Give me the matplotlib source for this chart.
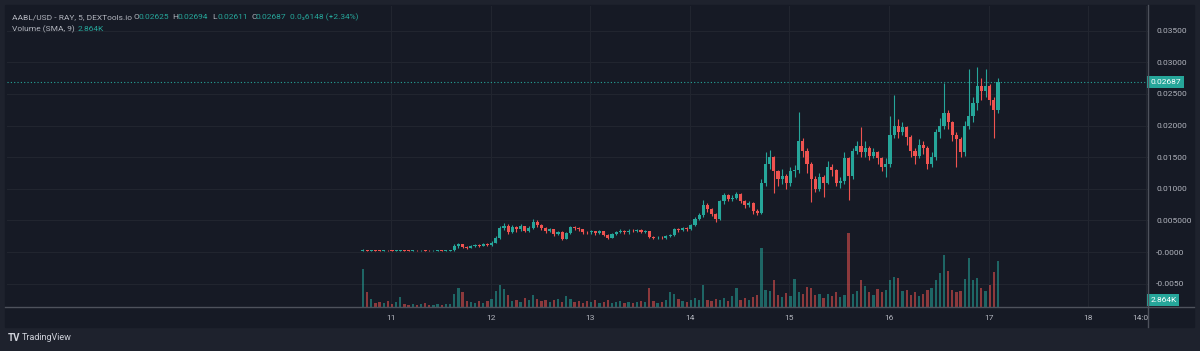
import numpy as np
import pandas as pd
import matplotlib
matplotlib.use('Agg')
import matplotlib.pyplot as plt
import matplotlib.dates as mdates
import matplotlib.transforms as mtransforms
from matplotlib.patches import Rectangle
from matplotlib.lines import Line2D

plt.rcParams['font.family'] = ['Roboto', 'DejaVu Sans']

# hourly candles
start = '2024-10-10 17:15'
first_open = 0.0002
close = [0.00025, 0.0002, 0.0003, 0.00025, 0.0002, 0.0003, 0.00028, 0.0002, 0.00022, 0.0003, 0.00025,
         0.00018, 0.0002, 0.00015, 0.0002, 0.00018, 0.00015, 0.0002, 0.00022, 0.0002, 0.00025, 0.0003,
         0.0009, 0.0012, 0.0008, 0.0007, 0.0009, 0.0011, 0.0010, 0.0013, 0.0011,
         0.0015, 0.0022, 0.0038,
         0.0042, 0.0032, 0.0040, 0.0036, 0.0041, 0.0034, 0.0038,
         0.0048, 0.0043,
         0.0038, 0.0033, 0.0036, 0.0029, 0.0032, 0.0021,
         0.0030, 0.0040, 0.0038, 0.0036,
         0.0032, 0.0031, 0.0033, 0.0030, 0.0033, 0.0027, 0.0023, 0.0028,
         0.0032, 0.0034, 0.0031, 0.0034, 0.0033, 0.0035, 0.0032, 0.0033,
         0.0024, 0.0022, 0.0023, 0.0022, 0.0025, 0.0027,
         0.0036, 0.0035, 0.0038, 0.0036,
         0.0043, 0.0052, 0.0058,
         0.0075, 0.0068, 0.0060, 0.0052,
         0.0080, 0.0090, 0.0084, 0.0086, 0.0092,
         0.0080, 0.0074, 0.0078, 0.0065,
         0.0062, 0.0110, 0.0140,
         0.0150, 0.0128, 0.0115,
         0.0120, 0.0110, 0.0128, 0.0130,
         0.0175,
         0.0160, 0.0140, 0.0115,
         0.0100, 0.0118, 0.0110,
         0.0135, 0.0130, 0.0110,
         0.0112, 0.0148, 0.0120,
         0.0160, 0.0168, 0.0158,
         0.0165, 0.0152, 0.0158, 0.0148, 0.0135,
         0.0140, 0.0185, 0.0200,
         0.0190, 0.0198, 0.0182,
         0.0160, 0.0152, 0.0170, 0.0165,
         0.0140, 0.0150,
         0.0190, 0.0200, 0.0220, 0.0205, 0.0185, 0.0178, 0.0158, 0.0200, 0.0215, 0.0235,
         0.0262, 0.0255, 0.0262, 0.0240, 0.0225, 0.02687]
high = [0.0005, 0.0004, 0.0004, 0.0004, 0.0003, 0.0004, 0.0004, 0.0003, 0.0003, 0.0004, 0.0004,
        0.0003, 0.0003, 0.0003, 0.0003, 0.0003, 0.0003, 0.0003, 0.0003, 0.0003, 0.0004, 0.0004,
        0.0012, 0.0015, 0.0013, 0.0010, 0.0011, 0.0013, 0.0013, 0.0015, 0.0014,
        0.0018, 0.0025, 0.0042,
        0.0046, 0.0044, 0.0043, 0.0042, 0.0044, 0.0042, 0.0041,
        0.0052, 0.0050,
        0.0044, 0.0040, 0.0038, 0.0037, 0.0034, 0.0033,
        0.0032, 0.0042, 0.0042, 0.0040,
        0.0037, 0.0034, 0.0035, 0.0034, 0.0035, 0.0034, 0.0028, 0.0030,
        0.0034, 0.0036, 0.0035, 0.0036, 0.0036, 0.0037, 0.0036, 0.0035,
        0.0034, 0.0026, 0.0025, 0.0025, 0.0027, 0.0029,
        0.0038, 0.0038, 0.0040, 0.0039,
        0.0045, 0.0055, 0.0062,
        0.0082, 0.0078, 0.0070, 0.0062,
        0.0083, 0.0094, 0.0092, 0.0090, 0.0095,
        0.0093, 0.0082, 0.0081, 0.0079,
        0.0068, 0.0115, 0.0158,
        0.0161, 0.0152, 0.0130,
        0.0132, 0.0124, 0.0135, 0.0138,
        0.0222,
        0.0180, 0.0165, 0.0142,
        0.0120, 0.0125, 0.0122,
        0.0144, 0.0140, 0.0132,
        0.0118, 0.0158, 0.0150,
        0.0165, 0.0175, 0.0197,
        0.0175, 0.0168, 0.0165, 0.0160, 0.0150,
        0.0148, 0.0215, 0.0248,
        0.0210, 0.0205, 0.0200,
        0.0185, 0.0165, 0.0178, 0.0175,
        0.0168, 0.0158,
        0.0195, 0.0212, 0.0268, 0.0225, 0.0208, 0.0190, 0.0182, 0.0208, 0.0290, 0.0245,
        0.0292, 0.0275, 0.0290, 0.0265, 0.0245, 0.0275]
low = [0.0001, 0.0001, 0.0001, 0.0001, 0.0001, 0.0001, 0.0001, 0.0001, 0.0001, 0.0001, 0.0001,
       0.0001, 0.0001, 0.0001, 0.0001, 0.0001, 0.0001, 0.0001, 0.0001, 0.0001, 0.0001, 0.0002,
       0.0002, 0.0007, 0.0006, 0.0005, 0.0006, 0.0008, 0.0008, 0.0009, 0.0009,
       0.0010, 0.0014, 0.0020,
       0.0035, 0.0028, 0.0030, 0.0032, 0.0034, 0.0031, 0.0032,
       0.0036, 0.0040,
       0.0035, 0.0030, 0.0031, 0.0026, 0.0027, 0.0019,
       0.0020, 0.0029, 0.0035, 0.0033,
       0.0029, 0.0028, 0.0029, 0.0027, 0.0028, 0.0025, 0.0021, 0.0022,
       0.0027, 0.0030, 0.0029, 0.0029, 0.0031, 0.0031, 0.0030, 0.0030,
       0.0022, 0.0020, 0.0021, 0.0020, 0.0021, 0.0024,
       0.0026, 0.0032, 0.0033, 0.0034,
       0.0035, 0.0041, 0.0050,
       0.0056, 0.0064, 0.0057, 0.0048,
       0.0050, 0.0076, 0.0081, 0.0080, 0.0084,
       0.0077, 0.0070, 0.0071, 0.0060,
       0.0058, 0.0060, 0.0105,
       0.0132, 0.0093, 0.0105,
       0.0108, 0.0100, 0.0104, 0.0118,
       0.0125,
       0.0150, 0.0125, 0.0079,
       0.0095, 0.0097, 0.0087,
       0.0108, 0.0120, 0.0105,
       0.0102, 0.0108, 0.0082,
       0.0115, 0.0155, 0.0150,
       0.0150, 0.0145, 0.0148, 0.0140, 0.0128,
       0.0118, 0.0135, 0.0180,
       0.0180, 0.0185, 0.0170,
       0.0150, 0.0140, 0.0148, 0.0155,
       0.0132, 0.0135,
       0.0145, 0.0180, 0.0195, 0.0195, 0.0175, 0.0135, 0.0150, 0.0152, 0.0195, 0.0205,
       0.0225, 0.0240, 0.0245, 0.0232, 0.0180, 0.0220]
volume = [15.6, 6.2, 3.3,
          1.8, 2.2, 1.5, 2.5, 1.2, 1.9, 4.0, 1.4,
          1.0, 1.3, 0.9, 1.1, 1.5, 0.8, 1.0, 1.2, 0.9, 1.1, 1.4,
          5.5, 8.0, 6.0, 2.5,
          2.0, 1.6, 2.4, 1.8, 2.6,
          3.5, 6.5, 9.0, 7.5, 5.0,
          2.5, 3.0, 2.2, 3.6, 2.8,
          5.0, 3.5,
          2.4, 3.0, 2.2, 2.8, 3.5, 2.0,
          4.5, 3.2,
          2.0, 2.6, 1.8, 2.4, 2.0, 3.0, 1.6, 2.2, 2.8, 1.8,
          2.0, 2.4, 1.6, 2.2, 1.8, 2.0, 2.6, 1.9,
          7.8,
          2.4, 1.8, 2.2, 3.0, 6.0,
          5.5, 3.2, 2.6, 2.2,
          2.8, 3.6, 3.0,
          9.0,
          3.0, 2.6, 3.4, 2.8, 3.8, 2.4, 4.5, 7.8,
          3.0, 3.6, 2.8, 4.0,
          5.0, 24.5, 7.0, 6.5, 11.0,
          5.0, 4.2, 5.8, 4.4, 11.5,
          6.0,
          5.2, 8.2, 8.0,
          4.8, 5.5, 3.8, 5.2, 4.5, 6.0, 4.2, 5.0,
          30.5,
          5.5, 6.5, 11.0, 8.5,
          6.0, 5.0, 7.5, 6.0,
          7.0, 11.0, 12.5, 12.0,
          6.5, 7.0, 5.0, 6.0, 4.5, 5.5,
          7.0, 8.0,
          11.0, 14.0, 21.5, 15.0,
          7.0, 6.0, 6.5,
          11.5, 20.0, 11.0, 12.0, 8.0, 6.5, 9.0, 14.5, 19.0]

price_ticks = [-0.005, 0.0, 0.005, 0.01, 0.015, 0.02, 0.025, 0.03, 0.035]
price_labels = ['-0.0050', '-0.0000', '0.005000', '0.01000', '0.01500', '0.02000', '0.02500',
                '0.03000', '0.03500']
day_ticks = ['2024-10-11', '2024-10-12', '2024-10-13', '2024-10-14', '2024-10-15', '2024-10-16',
             '2024-10-17', '2024-10-18']
day_labels = ['11', '12', '13', '14', '15', '16', '17', '18']
last_price = 0.02687

UP = '#26a69a'
DOWN = '#ef5350'
TXT = '#b2b5be'
BG = '#161a25'
OUTER = '#1e222d'
GRID = '#21252f'
SEP = '#4e525c'
FS = 6

W, H = 1200, 351
fig = plt.figure(figsize=(12, 3.51), dpi=100, facecolor=OUTER)

def fx(x):
    return x / W

def fy(y):
    return 1 - y / H

# chart panel
fig.patches.append(Rectangle((fx(5), fy(327)), fx(1194) - fx(5), fy(5) - fy(327),
                             transform=fig.transFigure, color=BG, zorder=-5))

rect = [fx(7), fy(307), fx(1148) - fx(7), fy(6) - fy(307)]
vax = fig.add_axes(rect)
ax = fig.add_axes(rect, sharex=vax)
vax.set_facecolor(BG)
ax.patch.set_alpha(0)

t = mdates.date2num(pd.date_range(start, periods=len(close), freq='h'))
opens = np.array([first_open] + close[:-1])
closes = np.array(close)
up = closes >= opens
colors = np.where(up, UP, DOWN)
w = 0.75 / 24

# grid (on the volume axes so bars sit over it)
gblend = mtransforms.blended_transform_factory(vax.transAxes, ax.transData)
for p in price_ticks:
    vax.plot([0, 1], [p, p], transform=gblend, color=GRID, lw=0.8, zorder=0)
for d in day_ticks + ['2024-10-18 14:00']:
    vax.axvline(mdates.date2num(pd.Timestamp(d)), color=GRID, lw=0.8, zorder=0)

# volume
vax.bar(t, volume, width=0.55 / 24, color=colors, alpha=0.55, linewidth=0, zorder=1)
vax.set_ylim(0, 124)
for s in vax.spines.values():
    s.set_visible(False)
vax.tick_params(axis='both', which='both', length=0, labelbottom=False, labelleft=False)

# candles
ax.vlines(t, low, high, colors=colors, lw=0.8, zorder=2)
body = np.maximum(np.abs(closes - opens), 0.00008)
ax.bar(t, body, bottom=np.minimum(opens, closes), width=w, color=colors, linewidth=0, zorder=3)

ax.axhline(last_price, color=UP, lw=0.8, ls=(0, (1, 2)), zorder=1)

ax.set_ylim(-0.00868, 0.0389)
ax.set_xlim(mdates.date2num(pd.Timestamp('2024-10-07 03:30')),
            mdates.date2num(pd.Timestamp('2024-10-18 14:24')))
for s in ax.spines.values():
    s.set_visible(False)
ax.yaxis.tick_right()
ax.set_yticks(price_ticks, price_labels)
ax.set_xticks(mdates.date2num(pd.to_datetime(day_ticks)), day_labels)
ax.tick_params(axis='y', length=0, pad=6, labelsize=FS, labelcolor=TXT)
ax.tick_params(axis='x', length=0, pad=6, labelsize=FS, labelcolor=TXT)

# price / volume tags
blend = mtransforms.blended_transform_factory(ax.transAxes, ax.transData)
ax.text(1.002, last_price, '0.02687', transform=blend, ha='left', va='center', fontsize=FS,
        color='white', bbox=dict(boxstyle='square,pad=0.35', fc=UP, ec='none'), zorder=5)
ax.text(1.002, 0, '2.864K', transform=mtransforms.offset_copy(ax.transAxes, fig=fig, y=7, units='dots'),
        ha='left', va='center', fontsize=FS,
        color='white', bbox=dict(boxstyle='square,pad=0.35', fc=UP, ec='none'), zorder=5)

# separators
fig.add_artist(Line2D([fx(5), fx(1194)], [fy(307), fy(307)], color=SEP, lw=1))
fig.add_artist(Line2D([fx(1148), fx(1148)], [fy(5), fy(327)], color=SEP, lw=1))
fig.text(fx(1148), fy(318), '14:0', ha='right', va='center', fontsize=FS, color=TXT)

# legend header
hdr = [(12, 'AABL/USD - RAY, 5, DEXTools.io', TXT), (133, 'O', TXT), (138.5, '0.02625', UP),
       (172, 'H', TXT), (178, '0.02694', UP), (212, 'L', TXT), (217, '0.02611', UP),
       (251, 'C', TXT), (256, '0.02687', UP), (290, '0.0\u20836148 (+2.34%)', UP)]
for x, s, c in hdr:
    fig.text(fx(x), fy(17), s, ha='left', va='center', fontsize=FS, color=c)
fig.text(fx(12), fy(29), 'Volume (SMA, 9)', ha='left', va='center', fontsize=FS, color=TXT)
fig.text(fx(78), fy(29), '2.864K', ha='left', va='center', fontsize=FS, color=UP)

# footer logo
fig.text(fx(8), fy(338), 'TV', ha='left', va='center', fontsize=7, color='#d1d4dc', weight='bold')
fig.text(fx(22), fy(338), 'TradingView', ha='left', va='center', fontsize=6.5, color='#d1d4dc')

fig.savefig('out.png', dpi=100, facecolor=OUTER)
